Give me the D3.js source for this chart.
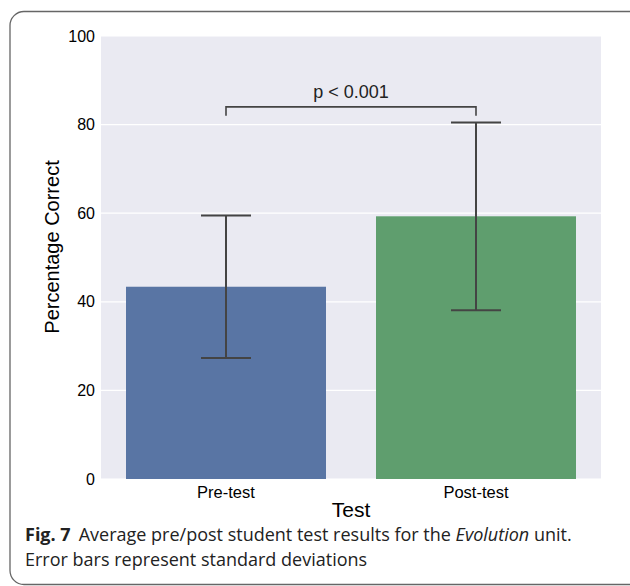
<!DOCTYPE html>
<html>
<head>
<meta charset="utf-8">
<script src="https://cdn.jsdelivr.net/npm/d3@7"></script>
<style>
  body { margin: 0; background: #fff; }
</style>
</head>
<body>
<div id="chart"></div>
<script>
// data
const tests = ["Pre-test", "Post-test"];
const means = [43.4, 59.3];
const sds = [16.1, 21.2];
const yTicks = [0, 20, 40, 60, 80, 100];
const pLabel = "p < 0.001";

const W = 630, H = 586;
const plot = {left: 101, right: 601, top: 36, bottom: 479};
const sans = "Liberation Sans, Arial, sans-serif";

const svg = d3.select("#chart")
  .append("svg")
  .attr("width", W)
  .attr("height", H);

// rounded frame (right edge runs off the picture)
svg.append("rect")
  .attr("x", 10).attr("y", 11.5)
  .attr("width", 640).attr("height", 573)
  .attr("rx", 14).attr("ry", 14)
  .attr("fill", "none")
  .attr("stroke", "#666")
  .attr("stroke-width", 1.3);

const x = d3.scaleBand()
  .domain(tests)
  .range([plot.left, plot.right])
  .paddingInner(0.2)
  .paddingOuter(0.1);

const y = d3.scaleLinear()
  .domain([0, 100])
  .range([plot.bottom, plot.top]);

// background
svg.append("rect")
  .attr("x", plot.left).attr("y", plot.top)
  .attr("width", plot.right - plot.left)
  .attr("height", plot.bottom - plot.top)
  .attr("fill", "#eaeaf2");

// gridlines
svg.selectAll("line.grid")
  .data(yTicks)
  .join("line")
  .attr("class", "grid")
  .attr("x1", plot.left).attr("x2", plot.right)
  .attr("y1", d => y(d)).attr("y2", d => y(d))
  .attr("stroke", "#fff")
  .attr("stroke-width", 1.2);

// y tick labels
svg.selectAll("text.ytick")
  .data(yTicks)
  .join("text")
  .attr("class", "ytick")
  .attr("x", plot.left - 6)
  .attr("y", d => y(d))
  .attr("dy", "0.35em")
  .attr("text-anchor", "end")
  .style("font-family", sans)
  .style("font-size", "16px")
  .attr("fill", "#000")
  .text(d => d);

const colors = ["#5975a4", "#5f9e6e"];

// bars
svg.selectAll("rect.bar")
  .data(tests)
  .join("rect")
  .attr("class", "bar")
  .attr("x", d => x(d))
  .attr("y", (d, i) => y(means[i]))
  .attr("width", x.bandwidth())
  .attr("height", (d, i) => y(0) - y(means[i]))
  .attr("fill", (d, i) => colors[i]);

// error bars
const eb = svg.append("g")
  .attr("stroke", "#444")
  .attr("stroke-width", 2);
tests.forEach((t, i) => {
  const cx = x(t) + x.bandwidth() / 2;
  const lo = y(means[i] - sds[i]), hi = y(means[i] + sds[i]);
  eb.append("line").attr("x1", cx).attr("x2", cx).attr("y1", lo).attr("y2", hi);
  eb.append("line").attr("x1", cx - 25).attr("x2", cx + 25).attr("y1", lo).attr("y2", lo);
  eb.append("line").attr("x1", cx - 25).attr("x2", cx + 25).attr("y1", hi).attr("y2", hi);
});

// significance bracket
const bx0 = x(tests[0]) + x.bandwidth() / 2;
const bx1 = x(tests[1]) + x.bandwidth() / 2;
svg.append("path")
  .attr("d", `M${bx0},${y(82)}V${y(84)}H${bx1}V${y(82)}`)
  .attr("fill", "none")
  .attr("stroke", "#444")
  .attr("stroke-width", 1.6);
svg.append("text")
  .attr("x", (bx0 + bx1) / 2)
  .attr("y", y(84) - 9)
  .attr("text-anchor", "middle")
  .style("font-family", sans)
  .style("font-size", "18px")
  .attr("fill", "#222")
  .text(pLabel);

// x tick labels
svg.selectAll("text.xtick")
  .data(tests)
  .join("text")
  .attr("class", "xtick")
  .attr("x", d => x(d) + x.bandwidth() / 2)
  .attr("y", plot.bottom + 19)
  .attr("text-anchor", "middle")
  .style("font-family", sans)
  .style("font-size", "16.5px")
  .attr("fill", "#000")
  .text(d => d);

// axis titles
svg.append("text")
  .attr("x", (plot.left + plot.right) / 2)
  .attr("y", plot.bottom + 38)
  .attr("text-anchor", "middle")
  .style("font-family", sans)
  .style("font-size", "21px")
  .attr("fill", "#000")
  .text("Test");

svg.append("text")
  .attr("transform", `translate(59, 247) rotate(-90)`)
  .attr("text-anchor", "middle")
  .style("font-family", sans)
  .style("font-size", "20px")
  .attr("fill", "#000")
  .text("Percentage Correct");

// caption
const cap = svg.append("text")
  .attr("x", 25)
  .attr("y", 541)
  .style("font-family", "Open Sans, sans-serif")
  .style("font-size", "18px")
  .attr("fill", "#222");
cap.append("tspan").style("font-weight", "bold").text("Fig. 7");
cap.append("tspan").attr("dx", 8).text("Average pre/post student test results for the ");
cap.append("tspan").style("font-style", "italic").text("Evolution");
cap.append("tspan").text(" unit.");
svg.append("text")
  .attr("x", 25)
  .attr("y", 566)
  .style("font-family", "Open Sans, sans-serif")
  .style("font-size", "18px")
  .attr("fill", "#222")
  .text("Error bars represent standard deviations");
</script>
</body>
</html>
